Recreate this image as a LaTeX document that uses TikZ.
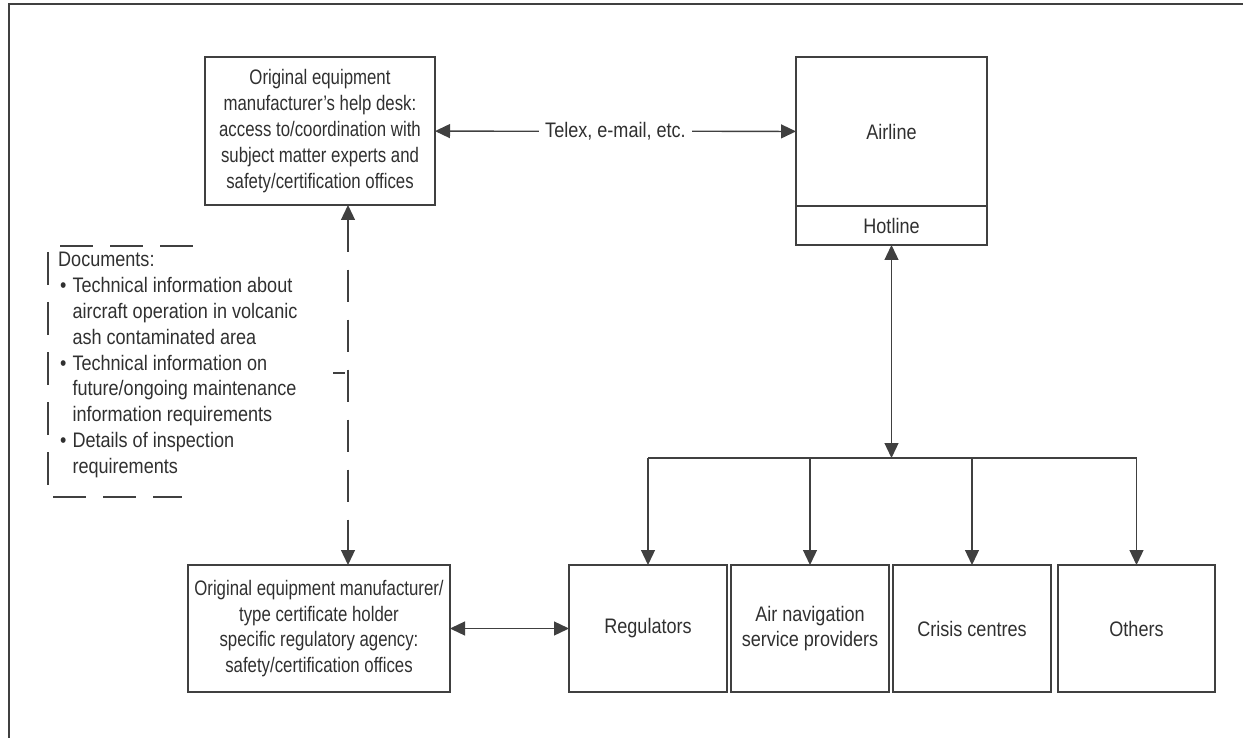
\documentclass[tikz,border=0pt]{standalone}
\usepackage{fontspec}
\setmainfont{Liberation Sans}[FakeStretch=0.86]
\newfontfamily\narrowbox{Liberation Sans}[FakeStretch=0.80]
\usetikzlibrary{arrows.meta}
\definecolor{ln}{HTML}{404040}
\definecolor{tx}{HTML}{303030}
\begin{document}
\begin{tikzpicture}[x=1pt,y=-1pt,
  every node/.style={text=tx, font=\fontsize{21}{25.8}\selectfont},
  box/.style={draw=ln, line width=1.3pt, align=center, inner sep=0pt, outer sep=0pt},
  widebox/.style={box, font=\narrowbox\fontsize{21}{25.8}\selectfont},
  conn/.style={draw=ln, line width=1.3pt},
  tip/.style={-{Triangle[length=15pt,width=14pt]}},
  tips/.style={{Triangle[length=15pt,width=14pt]}-{Triangle[length=15pt,width=14pt]}},
  dsh/.style={draw=ln, line width=1.3pt, dash pattern=on 33pt off 17pt}]
\useasboundingbox (0,0) rectangle (1243,738);
% frame
\draw[conn] (1243,4) -- (9,4) -- (9,738);
% nodes
\node[widebox, minimum width=230pt, minimum height=148pt] (A) at (320,131)
  {Original equipment\\manufacturer’s help desk:\\access to/coordination with\\subject matter experts and\\safety/certification offices};
\node[box, minimum width=191pt, minimum height=149pt] (air) at (891.5,131.5) {Airline};
\node[box, minimum width=191pt, minimum height=39pt] (hot) at (891.5,225.5) {Hotline};
\node[widebox, minimum width=262pt, minimum height=127pt] (B) at (319,628.5)
  {Original equipment manufacturer/\\type certificate holder\\specific regulatory agency:\\safety/certification offices};
\node[box, minimum width=158pt, minimum height=127pt] (reg) at (648,628.5) {Regulators};
\node[box, minimum width=158pt, minimum height=127pt] (ans) at (810,628.5) {Air navigation\\service providers};
\node[box, minimum width=158pt, minimum height=127pt] (cri) at (972,628.5) {Crisis centres};
\node[box, minimum width=157pt, minimum height=127pt] (oth) at (1136.5,628.5) {Others};
% documents text
\node[anchor=base west, inner sep=0pt] (doc) at (58,267)
  {\begin{tabular}[t]{@{\hspace{2pt}}l@{\hspace{6pt}}l@{}}
   \multicolumn{2}{@{}l@{}}{Documents:}\\
   • & Technical information about\\
     & aircraft operation in volcanic\\
     & ash contaminated area\\
   • & Technical information on\\
     & future/ongoing maintenance\\
     & information requirements\\
   • & Details of inspection\\
     & requirements
   \end{tabular}};
% dashed bracket of the documents
\draw[dsh] (60,246) -- (193,246);
\draw[dsh] (53,497) -- (182,497);
\draw[dsh] (48,252) -- (48,487);
\draw[conn] (333,373) -- (345,373);
% connectors
\draw[conn, tips] (A) -- node[fill=white, inner xsep=6pt, inner ysep=2pt] {Telex, e-mail, etc.} (air);
\coordinate (busM) at (891.5,458);
\coordinate (busL) at (648,458);
\coordinate (busR) at (1136.5,458);
\draw[conn, tips] (hot.south) -- (busM);
\draw[conn] (busL) -- (busR);
\draw[conn, tip] (busL) -- (reg.north);
\draw[conn, tip] (ans.north |- busM) -- (ans.north);
\draw[conn, tip] (cri.north |- busM) -- (cri.north);
\draw[conn, tip] (busR) -- (oth.north);
\draw[conn, tips] (B.east) -- (reg.west);
\draw[conn, tips, dash pattern=on 32pt off 18pt, dash phase=0pt] ([xshift=28pt]A.south) -- ([xshift=29pt]B.north);
\end{tikzpicture}
\end{document}
